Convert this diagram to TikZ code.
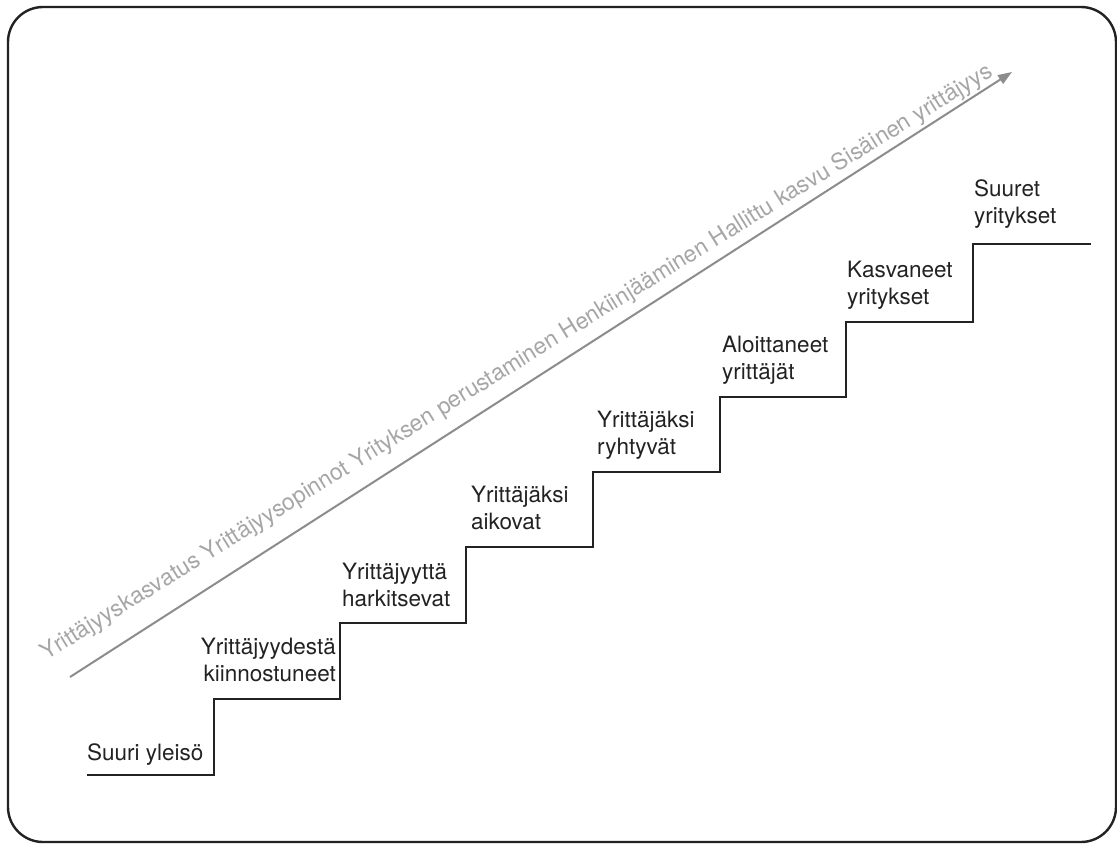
\documentclass[tikz,border=0pt]{standalone}
\usepackage{fontspec}
\setmainfont{TeX Gyre Heros}
\usetikzlibrary{arrows.meta}
\definecolor{arrowgray}{HTML}{8C8C8C}
\definecolor{textgray}{HTML}{A6A6A6}
\definecolor{ink}{HTML}{222222}
\tikzset{
  steplabel/.style={inner sep=0pt, anchor=south west, align=left, text depth=0pt,
    font=\fontsize{22.5}{27}\selectfont, text=ink},
  stairline/.style={draw=ink, line width=1.5pt, line join=miter},
  frameline/.style={draw=ink, line width=2.4pt, rounded corners=35pt},
  growarrow/.style={draw=arrowgray, line width=2pt, -{Triangle[length=14pt,width=10pt]}},
  arrowtext/.style={inner sep=0pt, anchor=base west, text=textgray,
    font=\fontsize{23}{27}\selectfont}
}
\begin{document}
\begin{tikzpicture}[x=1pt,y=-1pt]
\useasboundingbox (0,0) rectangle (1117,844);
\draw[frameline] (8,7) rectangle (1116,842);
% staircase
\coordinate (s0) at (87,775);
\coordinate (s1) at (214,775);
\coordinate (s2) at (214,699);
\coordinate (s3) at (340,699);
\coordinate (s4) at (340,623);
\coordinate (s5) at (466,623);
\coordinate (s6) at (466,547);
\coordinate (s7) at (593,547);
\coordinate (s8) at (593,472);
\coordinate (s9) at (720,472);
\coordinate (s10) at (720,397);
\coordinate (s11) at (846,397);
\coordinate (s12) at (846,322);
\coordinate (s13) at (973,322);
\coordinate (s14) at (973,244);
\coordinate (s15) at (1091,244);
\draw[stairline] (s0) -- (s1) -- (s2) -- (s3) -- (s4) -- (s5) -- (s6) -- (s7) -- (s8) -- (s9) -- (s10) -- (s11) -- (s12) -- (s13) -- (s14) -- (s15);
% labels
\node[steplabel] (l1) at (87,761) {Suuri yleisö};
\node[steplabel, anchor=south east, align=right] (l2) at (336,682) {Yrittäjyydestä\\kiinnostuneet};
\node[steplabel] (l3) at (342,607) {Yrittäjyyttä\\harkitsevat};
\node[steplabel] (l4) at (471,530) {Yrittäjäksi\\aikovat};
\node[steplabel] (l5) at (597,455) {Yrittäjäksi\\ryhtyvät};
\node[steplabel] (l6) at (722,380) {Aloittaneet\\yrittäjät};
\node[steplabel] (l7) at (847,305) {Kasvaneet\\yritykset};
\node[steplabel] (l8) at (974,224) {Suuret\\yritykset};
% arrow
\coordinate (a0) at (70,677);
\coordinate (a1) at (1012,72);
\draw[growarrow] (a0) -- (a1);
\node[arrowtext, rotate=31.7] (t) at (46,661) {Yrittäjyyskasvatus Yrittäjyysopinnot Yrityksen perustaminen Henkiinjääminen Hallittu kasvu Sisäinen yrittäjyys};
\end{tikzpicture}
\end{document}
